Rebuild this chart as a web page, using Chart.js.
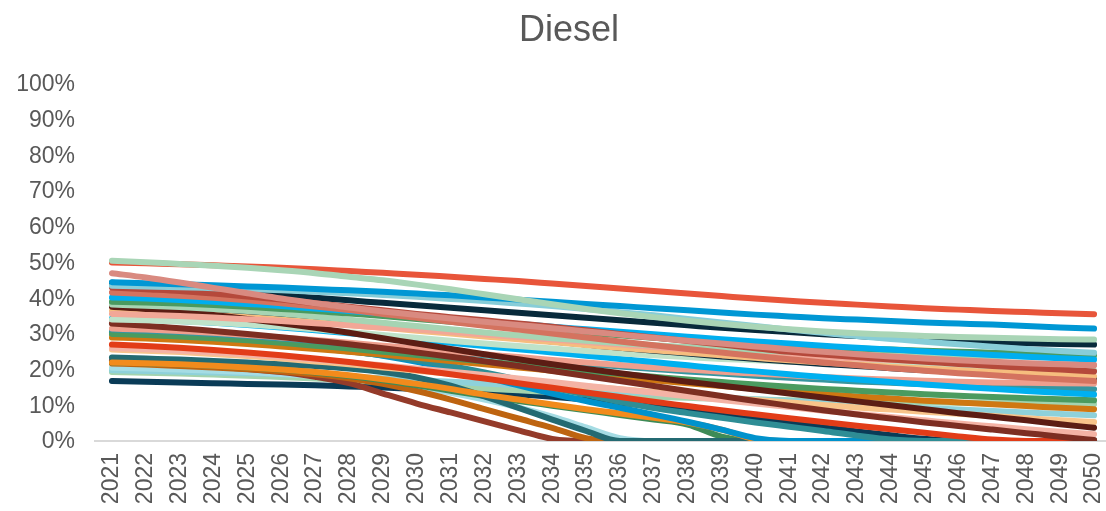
<!DOCTYPE html>
<html>
<head>
<meta charset="utf-8">
<title>Diesel</title>
<script src="https://cdn.jsdelivr.net/npm/chart.js@4/dist/chart.umd.min.js"></script>
<style>
  html, body { margin: 0; padding: 0; background: #ffffff; overflow: hidden; }
  #wrap { width: 1106px; height: 511px; overflow: hidden; position: relative; }
  canvas { display: block; }
</style>
</head>
<body>
<div id="wrap"><canvas id="chart" width="1111" height="511"></canvas></div>
<script>
// Categories (x axis) and chart title
const TITLE = 'Diesel';
const YEARS = ['2021','2022','2023','2024','2025','2026','2027','2028','2029','2030',
               '2031','2032','2033','2034','2035','2036','2037','2038','2039','2040',
               '2041','2042','2043','2044','2045','2046','2047','2048','2049','2050'];
// Y axis tick values (percent)
const Y_TICKS = [0, 10, 20, 30, 40, 50, 60, 70, 80, 90, 100];

// Diesel share per scenario, percent, 2021..2050
const mint1 = [50.5,50.1,49.6,49.1,48.5,47.8,47.0,46.0,45.0,43.8,42.5,41.1,39.7,38.3,37.0,35.8,34.7,33.7,32.8,32.0,31.3,30.7,30.2,29.8,29.4,29.1,28.9,28.7,28.5,28.4];
const rose = [47.0,45.8,44.4,42.9,41.4,39.9,38.6,37.4,36.3,35.3,34.3,33.4,32.5,31.6,30.7,29.8,28.9,28.1,27.3,26.5,25.7,25.0,24.3,23.7,23.1,22.6,22.2,21.8,21.5,21.2];
const redOrange = [50.0,49.8,49.5,49.2,48.9,48.5,48.1,47.6,47.1,46.6,46.0,45.4,44.8,44.1,43.4,42.7,42.0,41.3,40.6,39.9,39.3,38.7,38.2,37.7,37.2,36.8,36.4,36.1,35.8,35.5];
const blue1 = [44.5,44.2,43.9,43.6,43.3,43.0,42.6,42.2,41.8,41.3,40.8,40.2,39.6,39.0,38.4,37.8,37.2,36.6,36.0,35.4,34.9,34.4,34.0,33.6,33.2,32.9,32.6,32.2,31.8,31.5];
const navy1 = [44.3,43.6,42.9,42.2,41.5,40.8,40.1,39.4,38.7,38.0,37.3,36.6,35.9,35.2,34.5,33.8,33.1,32.4,31.7,31.1,30.5,29.9,29.4,28.9,28.5,28.1,27.7,27.4,27.2,27.0];
const cyanLight = [43.5,43.3,43.1,42.8,42.5,42.2,41.8,41.4,40.9,40.4,39.8,39.2,38.5,37.8,37.0,36.1,35.2,34.2,33.2,32.2,31.2,30.3,29.4,28.6,27.8,27.1,26.4,25.8,25.2,24.7];
const brick = [43.0,42.5,42.0,41.3,40.5,39.6,38.6,37.6,36.6,35.6,34.7,33.8,32.9,32.0,31.0,30.0,29.0,28.0,27.0,26.0,25.0,24.2,23.5,22.8,22.2,21.6,21.0,20.5,20.0,19.5];
const coral = [41.6,41.2,40.7,40.1,39.4,38.6,37.7,36.7,35.6,34.5,33.4,32.3,31.2,30.1,29.0,27.9,26.8,25.8,24.8,23.8,22.9,22.0,21.2,20.4,19.7,19.0,18.4,17.8,17.3,16.8];
const brightBlue1 = [40.2,39.9,39.5,39.0,38.4,37.8,37.1,36.4,35.7,35.0,34.2,33.5,32.8,32.0,31.3,30.6,29.9,29.2,28.5,27.9,27.3,26.7,26.1,25.6,25.1,24.6,24.1,23.6,23.2,22.8];
const green1 = [39.0,38.8,38.5,38.1,37.6,37.0,36.4,35.7,35.0,34.2,33.4,32.6,31.8,31.0,30.3,29.6,28.9,28.3,27.7,27.2,26.7,26.3,25.9,25.6,25.3,25.0,24.7,24.5,24.3,24.1];
const mint2 = [38.2,37.9,37.5,37.0,36.4,35.7,34.9,34.0,33.1,32.2,31.3,30.4,29.6,28.8,28.1,27.4,26.8,26.3,25.8,25.4,25.0,24.7,24.4,24.2,24.0,23.9,23.8,23.7,23.6,23.5];
const navy3 = [38.0,37.6,37.1,36.5,35.8,35.0,34.2,33.3,32.4,31.5,30.6,29.7,28.8,27.9,27.0,26.1,25.3,24.5,23.7,23.0,22.3,21.6,21.0,20.4,19.8,19.3,18.8,18.3,17.9,17.5];
const darkMaroon = [37.6,37.0,36.2,35.3,34.2,33.0,31.7,30.3,28.8,27.3,25.8,24.3,22.9,21.5,20.2,19.0,17.8,16.6,15.5,14.4,13.3,12.2,11.1,10.0,8.9,7.8,6.8,5.8,4.7,3.7];
const lightOrange1 = [36.5,36.2,35.8,35.3,34.7,34.0,33.3,32.5,31.7,30.9,30.1,29.3,28.5,27.7,26.9,26.1,25.4,24.7,24.0,23.3,22.6,22.0,21.4,20.8,20.3,19.8,19.3,18.9,18.5,18.1];
const salmon1 = [35.6,35.3,35.0,34.6,34.1,33.6,33.0,32.4,31.8,31.2,30.5,29.8,29.1,28.4,27.7,27.0,26.3,25.7,25.1,24.5,24.0,23.5,23.1,22.7,22.4,22.1,21.9,21.7,21.5,21.4];
const paleGreen = [34.0,33.8,33.5,33.1,32.6,32.0,31.3,30.5,29.7,28.9,28.1,27.3,26.6,25.9,25.2,24.6,24.0,23.5,23.0,22.6,22.2,21.8,21.5,21.2,20.9,20.6,20.4,20.2,20.0,19.8];
const brightBlue2 = [34.3,34.0,33.6,33.1,32.5,31.8,31.0,30.2,29.3,28.4,27.5,26.6,25.7,24.8,23.9,23.0,22.1,21.2,20.3,19.5,18.7,17.9,17.2,16.5,15.8,15.2,14.6,14.0,13.5,13.0];
const maroon = [32.9,32.3,31.6,30.8,30.0,29.1,28.1,27.1,26.0,24.8,23.6,22.3,21.0,19.6,18.2,16.8,15.4,14.0,12.6,11.2,9.9,8.6,7.4,6.3,5.2,4.2,3.2,2.2,1.2,0.3];
const salmon2 = [31.5,31.2,30.8,30.3,29.7,29.0,28.3,27.5,26.7,25.9,25.1,24.3,23.5,22.7,22.0,21.3,20.6,20.0,19.4,18.9,18.4,17.9,17.5,17.2,16.9,16.6,16.4,16.3,16.2,16.1];
const teal1 = [31.2,30.9,30.5,30.0,29.4,28.7,28.0,27.2,26.4,25.6,24.8,24.0,23.2,22.4,21.6,20.9,20.2,19.5,18.9,18.3,17.7,17.2,16.7,16.3,15.9,15.6,15.3,15.0,14.8,14.5];
const green3 = [30.0,29.7,29.3,28.8,28.2,27.5,26.7,25.9,25.0,24.1,23.2,22.3,21.4,20.5,19.6,18.8,18.0,17.2,16.5,15.8,15.2,14.6,14.1,13.6,13.1,12.7,12.3,12.0,11.7,11.4];
const teal2 = [30.0,29.6,29.1,28.5,27.8,27.0,26.1,25.1,24.0,22.6,21.0,19.2,17.2,15.0,13.0,11.0,9.2,7.8,6.5,5.2,4.0,2.8,1.5,0.4,0,0,0,0,0,0];
const darkOrange = [29.0,28.7,28.3,27.8,27.2,26.5,25.8,25.0,24.2,23.3,22.4,21.5,20.6,19.7,18.8,17.9,17.0,16.2,15.4,14.6,13.9,13.2,12.5,11.9,11.3,10.8,10.3,9.8,9.3,8.9];
const blue2 = [30.5,30.1,29.6,29.0,28.3,27.5,26.5,25.3,23.9,22.2,20.2,18.0,15.6,13.3,11.2,9.3,7.4,5.4,3.2,0.8,0,0,0,0,0,0,0,0,0,0];
const red = [27.0,26.6,26.1,25.5,24.8,24.0,23.1,22.1,21.0,19.9,18.7,17.5,16.2,14.9,13.6,12.3,11.0,9.8,8.6,7.5,6.4,5.3,4.3,3.3,2.3,1.3,0.4,0,0,0];
const pinkish = [26.0,25.7,25.3,24.8,24.2,23.5,22.8,22.0,21.2,20.3,19.4,18.5,17.5,16.5,15.5,14.5,13.5,12.5,11.5,10.5,9.5,8.5,7.6,6.7,5.8,4.9,4.1,3.3,2.6,1.9];
const lightOrange2 = [25.6,25.3,24.9,24.4,23.8,23.1,22.3,21.5,20.6,19.7,18.8,17.9,17.0,16.1,15.3,14.5,13.7,12.9,12.2,11.5,10.8,10.1,9.4,8.8,8.2,7.6,7.0,6.4,5.8,5.3];
const orange = [22.0,21.8,21.5,21.1,20.6,20.0,19.3,18.4,17.3,16.0,14.6,13.0,11.6,10.2,8.9,7.7,6.5,5.2,3.2,0.5,0,0,0,0,0,0,0,0,0,0];
const darkTeal = [23.4,23.1,22.8,22.4,22.0,21.5,21.0,20.3,19.3,17.8,15.5,12.5,9.3,6.0,2.8,0,0,0,0,0,0,0,0,0,0,0,0,0,0,0];
const green2 = [22.0,21.8,21.5,21.1,20.6,20.0,19.2,18.2,17.0,15.6,14.1,12.6,11.2,9.9,8.6,7.3,6.0,4.6,1.2,0,0,0,0,0,0,0,0,0,0,0];
const burntOrange = [21.7,21.4,21.0,20.6,20.1,19.5,18.7,17.6,16.0,14.0,11.6,8.9,6.3,3.7,0.8,0,0,0,0,0,0,0,0,0,0,0,0,0,0,0];
const brown = [22.5,22.0,21.5,20.9,20.2,19.3,18.0,16.2,13.3,10.5,8.0,5.5,3.0,0.6,0,0,0,0,0,0,0,0,0,0,0,0,0,0,0,0];
const lightCyan3 = [20.5,20.3,20.0,19.7,19.3,18.8,18.2,17.4,16.4,15.1,13.5,11.6,9.4,6.8,3.8,0.8,0,0,0,0,0,0,0,0,0,0,0,0,0,0];
const lightCyan2 = [19.8,19.6,19.4,19.2,19.0,18.7,18.4,18.0,17.6,17.1,16.6,16.1,15.6,15.1,14.6,14.0,13.4,12.8,12.2,11.7,11.2,10.7,10.2,9.7,9.2,8.8,8.4,8.0,7.6,7.2];
const paleGreen2 = [19.3,19.1,18.9,18.6,18.3,17.9,17.5,17.0,16.5,15.9,15.3,14.7,14.2,13.7,13.2,12.8,12.4,12.1,11.8,11.6,11.4,11.2,11.0,10.9,10.8,10.7,10.6,10.5,10.4,10.3];
const navy2 = [16.8,16.6,16.4,16.2,16.0,15.8,15.6,15.3,15.0,14.6,14.2,13.7,13.1,12.4,11.6,10.7,9.7,8.6,7.4,6.2,5.0,3.8,2.7,1.6,0.6,0,0,0,0,0];

// Line colours; earlier entries are painted on top
const lines = [
  [mint1, '#A9D5B6'], [redOrange, '#E8553A'], [rose, '#D98A80'], [blue1, '#0097D4'],
  [cyanLight, '#87CDD8'], [brick, '#B5493B'], [navy1, '#082A3B'], [coral, '#D4735F'],
  [brightBlue1, '#00AEEF'], [green1, '#4A9A5F'], [mint2, '#A6D4B3'], [salmon1, '#F2A797'],
  [darkMaroon, '#5C1D14'], [lightOrange1, '#F6BD7E'], [navy3, '#0C2D3F'], [paleGreen, '#BFE2C9'],
  [brightBlue2, '#00B0F0'], [maroon, '#7D2E22'], [salmon2, '#EE9F8E'], [teal1, '#3696A0'],
  [green3, '#4B9B5F'], [darkOrange, '#CF7812'], [red, '#E23C18'], [pinkish, '#F4B3A5'],
  [lightOrange2, '#F8C48A'], [teal2, '#2E8D95'], [blue2, '#0092CC'], [orange, '#F28B1C'],
  [darkTeal, '#246A72'], [green2, '#3E8B57'], [burntOrange, '#BE6410'], [brown, '#943B2A'],
  [lightCyan3, '#A5DCE4'], [lightCyan2, '#8ED1DA'], [paleGreen2, '#A3D3AE'], [navy2, '#0A3B57']
];

const FONT = '"Liberation Sans", Arial, sans-serif';
const TEXT = '#595959';

// Centered chart title drawn above the plot
const titlePlugin = {
  id: 'dieselTitle',
  afterDraw(chart) {
    const ctx = chart.ctx;
    ctx.save();
    ctx.font = '36px ' + FONT;
    ctx.fillStyle = TEXT;
    ctx.textAlign = 'center';
    ctx.textBaseline = 'alphabetic';
    ctx.fillText(TITLE, 569, 41);
    ctx.restore();
  }
};

new Chart(document.getElementById('chart'), {
  type: 'line',
  data: {
    labels: YEARS,
    datasets: lines.map(([values, color]) => ({
      data: values,
      borderColor: color,
      backgroundColor: color,
      borderWidth: 6,
      borderCapStyle: 'round',
      borderJoinStyle: 'round',
      pointRadius: 0,
      pointHoverRadius: 0,
      tension: 0.4,
      cubicInterpolationMode: 'monotone',
      fill: false
    }))
  },
  options: {
    responsive: false,
    animation: false,
    devicePixelRatio: 1,
    layout: { padding: { top: 84, left: 0, right: 0, bottom: 0 } },
    plugins: { legend: { display: false }, tooltip: { enabled: false }, title: { display: false } },
    scales: {
      x: {
        type: 'category',
        offset: true,
        grid: { display: false, drawTicks: false },
        border: { display: true, color: '#D9D9D9', width: 2 },
        ticks: {
          autoSkip: false,
          maxRotation: 90,
          minRotation: 90,
          padding: 12,
          color: TEXT,
          font: { family: FONT, size: 23 }
        },
        afterFit(scale) {
          scale.height = 70;
          scale.paddingLeft = 0;
          scale.paddingRight = 0;
        }
      },
      y: {
        min: 0,
        max: 100,
        grid: { display: false, drawTicks: false },
        border: { display: false },
        afterBuildTicks(scale) { scale.ticks = Y_TICKS.map(v => ({ value: v })); },
        ticks: {
          padding: 20,
          labelOffset: 1,
          color: TEXT,
          font: { family: FONT, size: 23 },
          callback: v => v + '%'
        },
        afterFit(scale) {
          scale.width = 95;
          scale.paddingTop = 0;
          scale.paddingBottom = 0;
        }
      }
    }
  },
  plugins: [titlePlugin]
});
</script>
</body>
</html>
